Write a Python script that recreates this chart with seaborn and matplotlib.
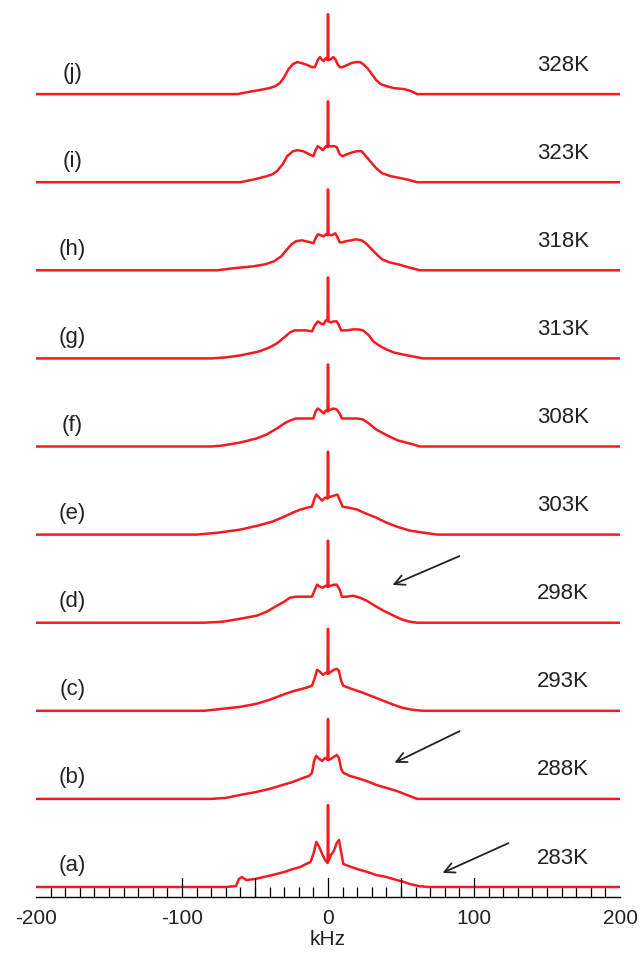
import numpy as np
import pandas as pd
import matplotlib
matplotlib.use("Agg")
import matplotlib.pyplot as plt
import seaborn as sns

# ---- data (x in kHz, intensity in arbitrary units) ----
labels = ["(a)", "(b)", "(c)", "(d)", "(e)", "(f)", "(g)", "(h)", "(i)", "(j)"]
temps = ["283K", "288K", "293K", "298K", "303K", "308K", "313K", "318K", "323K", "328K"]

a_x = [-200, -70, -63, -61, -59, -56, -50, -44, -38, -30, -24, -19, -15, -12, -10, -8, -6, -4, -2, -0.3, 0, 0.3, 2, 4, 6, 7.5, 9, 10.5, 14, 20, 27, 33, 40, 47, 52, 56, 62, 68, 200]
a_y = [0, 0, 1, 8, 10, 7, 8, 10, 12, 15, 18, 20, 23, 25, 33, 45, 40, 33, 27, 24, 82, 26, 32, 36, 44, 47, 35, 23, 21, 18, 15, 12, 10, 7, 5, 3, 1, 0, 0]

b_x = [-200, -80, -70, -60, -49, -40, -31, -24, -17, -13, -11, -9.5, -8, -6, -4, -2, -0.3, 0, 0.3, 2, 4, 6, 7.5, 9, 10.5, 15, 22, 28, 33, 40, 47, 54, 61, 200]
b_y = [0, 0, 1, 4, 7, 10, 14, 17, 21, 23, 26, 38, 43, 40, 38, 41, 39, 80, 39, 40, 42, 44, 41, 30, 26, 23, 20, 17, 14, 11, 8, 4, 0, 0]

c_x = [-200, -85, -72, -60, -49, -40, -31, -23, -15, -11, -9, -7.5, -5.5, -3.5, -1.5, -0.3, 0, 0.3, 2, 4, 6, 7.5, 9, 10.5, 16, 24, 31, 38, 45, 51, 58, 65, 200]
c_y = [0, 0, 2, 4, 7, 11, 16, 20, 23, 25, 33, 41, 39, 36, 38, 37, 82, 37, 39, 41, 42, 40, 30, 25, 22, 18, 14, 10, 6, 3, 1, 0, 0]

d_x = [-200, -85, -72, -60, -49, -42, -35, -30, -26, -22, -16, -11, -9, -7.5, -5.5, -3.5, -1.5, -0.3, 0, 0.3, 2, 4, 6, 8, 9.5, 13, 17, 22, 26.5, 32, 38, 45, 51, 56, 61, 200]
d_y = [0, 0, 1, 4, 7, 11, 17, 21, 25, 26, 26, 26, 33, 38, 36, 35, 37, 36, 82, 36, 37, 38, 38, 33, 26, 26, 27, 25, 22, 17, 12, 7, 3, 1, 0, 0]

e_x = [-200, -90, -75, -60, -48, -38, -30, -24, -19, -14, -11, -9.5, -8, -6, -4, -2, -0.3, 0, 0.3, 2, 4, 6.5, 8.5, 10, 14, 20, 26, 33, 40, 47, 56, 65, 75, 200]
e_y = [0, 0, 2, 5, 9, 13, 18, 22, 25, 27, 28, 35, 40, 37, 34, 37, 36, 83, 37, 38, 39, 40, 33, 28, 27, 25, 21, 17, 12, 8, 4, 2, 0, 0]

f_x = [-200, -80, -72, -60, -49, -42, -35, -30, -26, -22, -18, -10, -8.5, -7, -5, -3, -1.5, -0.3, 0, 0.3, 2, 3.6, 6, 8, 9.6, 14, 20, 24, 28, 33, 38, 42, 48, 56, 63, 200]
f_y = [0, 0, 1, 4, 8, 12, 18, 23, 26, 28, 28, 28, 35, 38, 36, 33, 36, 35, 82, 36, 37, 38, 37, 33, 28, 28, 28, 27, 23, 17, 13, 10, 6, 3, 0, 0]

g_x = [-200, -80, -70, -60, -47, -40, -35, -30, -26, -23, -19, -15, -11, -9, -7, -5, -3, -1.5, -0.3, 0, 0.3, 2, 3.6, 6, 7.5, 9, 13, 17, 21, 24, 28, 31, 36, 40, 45, 51, 58, 65, 200]
g_y = [0, 0, 1, 3, 7, 11, 15, 21, 26, 28, 28, 28, 27, 33, 37, 35, 34, 38, 38, 81, 37, 36, 37, 37, 33, 28, 28, 29, 29, 28, 23, 17, 12, 9, 6, 4, 2, 0, 0]

h_x = [-200, -76, -65, -51, -43, -37, -32, -28, -25, -22, -18, -15, -12, -10, -8.5, -7, -5, -3, -1.5, -0.3, 0, 0.3, 2.5, 5, 6.5, 8, 10, 12, 16, 19, 23, 26, 30, 34, 37, 42, 48, 55, 63, 200]
h_y = [0, 0, 2, 4, 6, 9, 14, 21, 26, 29, 30, 29, 28, 27, 32, 36, 35, 34, 36, 35, 81, 36, 35, 37, 33, 28, 28, 29, 30, 31, 30, 27, 21, 15, 11, 8, 6, 3, 0, 0]

i_x = [-200, -60, -50, -42, -38, -35, -31, -28, -24, -21, -17, -13, -10, -8.5, -7, -5, -3.5, -1.5, -0.3, 0, 0.3, 2.6, 4.5, 6, 8, 10, 13, 17, 20, 23, 26, 30, 33, 37, 43, 50, 56, 61, 200]
i_y = [0, 0, 3, 6, 8, 11, 18, 26, 31, 32, 31, 28, 26, 32, 36, 34, 32, 36, 35, 81, 36, 36, 36, 35, 28, 26, 28, 30, 31, 31, 26, 19, 14, 9, 6, 4, 2, 0, 0]

j_x = [-200, -62, -55, -47, -40, -36, -33, -30, -27, -24, -21, -18, -14, -11, -9, -7, -5.5, -4, -3, -1.5, -0.3, 0, 0.3, 2, 3.6, 5, 6.5, 8, 10, 13, 16, 19, 22, 24, 27, 30, 33, 36, 40, 45, 52, 57, 61, 200]
j_y = [0, 0, 2, 4, 6, 8, 11, 17, 25, 30, 32, 31, 29, 27, 27, 34, 37, 34, 33, 36, 34, 80, 34, 35, 37, 35, 30, 27, 27, 29, 31, 32, 32, 30, 26, 20, 14, 10, 8, 6, 5, 3, 0, 0]

spectra_x = [a_x, b_x, c_x, d_x, e_x, f_x, g_x, h_x, i_x, j_x]
spectra_y = [a_y, b_y, c_y, d_y, e_y, f_y, g_y, h_y, i_y, j_y]

tick_major = [-100, -50, 0, 50, 100]
tick_labels = [-200, -100, 0, 100, 200]

# ---- layout / style ----
W, H, DPI = 640, 956, 100
AX_LEFT, AX_RIGHT, AX_LINE = 36, 620, 897   # pixel positions
BASE0, STEP = 10, 88.1                     # baseline of (a) above axis, spacing
RED = "#f41a1f"
TXT = "#222222"

sns.set_theme(style="white")
plt.rcParams["font.family"] = ["Liberation Sans", "DejaVu Sans"]

fig = plt.figure(figsize=(W / DPI, H / DPI), dpi=DPI)
ax = fig.add_axes([AX_LEFT / W, (H - AX_LINE) / H, (AX_RIGHT - AX_LEFT) / W, AX_LINE / H])
ax.set_xlim(-200, 200)
ax.set_ylim(0, AX_LINE)

for k, (xs, ys) in enumerate(zip(spectra_x, spectra_y)):
    off = BASE0 + k * STEP
    df = pd.DataFrame({"x": xs, "y": np.asarray(ys, dtype=float) + off})
    sns.lineplot(data=df, x="x", y="y", ax=ax, color=RED, lw=1.8,
                 estimator=None, sort=False, legend=False)
    ax.text(-175, off + 21, labels[k], ha="center", va="center", fontsize=16, color=TXT)
    ax.text(161, off + 29, temps[k], ha="center", va="center", fontsize=16, color=TXT)

# arrows (pixel coords -> data coords)
def px(x, y):
    return ((x - AX_LEFT) / (AX_RIGHT - AX_LEFT) * 400 - 200, AX_LINE - y)

for (tx, ty, hx, hy) in [(462, 555, 390, 586), (462, 730, 392, 764), (511, 842, 440, 874)]:
    ax.annotate("", xy=px(hx, hy), xytext=px(tx, ty),
                arrowprops=dict(arrowstyle="->", color="#222222", lw=1.3,
                                mutation_scale=18))

# axis
for s in ["top", "right", "left"]:
    ax.spines[s].set_visible(False)
ax.spines["bottom"].set_color("black")
ax.spines["bottom"].set_linewidth(1.0)
ax.set_yticks([])
ax.set_xticks(tick_labels)
ax.set_xticklabels([str(t) for t in tick_labels], fontsize=15, color=TXT)
ax.set_xticks(np.arange(-200, 201, 10), minor=True)
ax.tick_params(axis="x", which="major", bottom=True, direction="in", length=0, pad=9)
ax.tick_params(axis="x", which="minor", bottom=True, direction="in", length=7.2, width=0.9, color="black")
# taller major ticks
for t in tick_major:
    ax.plot([t, t], [0, 19], color="black", lw=0.9)
ax.set_xlabel("kHz", fontsize=15, color=TXT, labelpad=1)
ax.set_ylabel("")

fig.savefig("out.png", dpi=DPI)
